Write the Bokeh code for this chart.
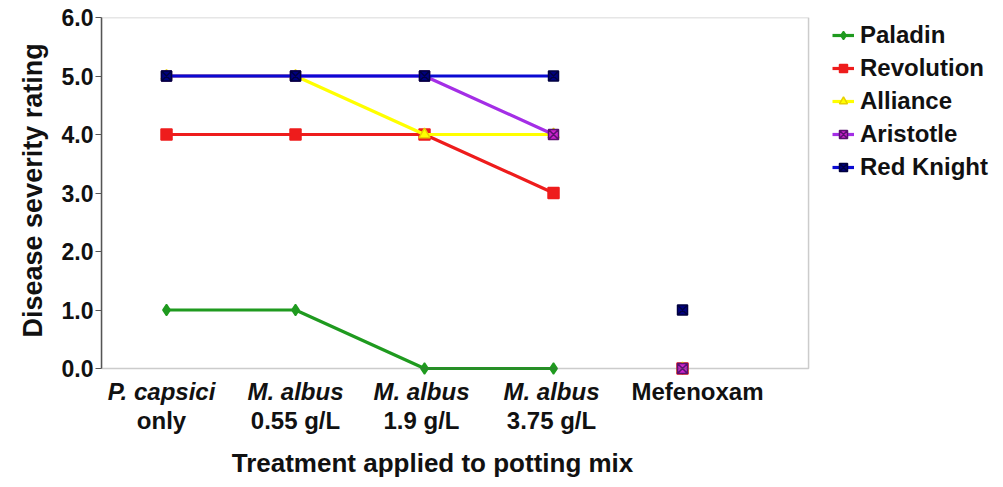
from bokeh.plotting import figure
from bokeh.models import (Range1d, Label, Legend, LegendItem, FixedTicker,
                          CustomJSTickFormatter, BoxAnnotation, Title)
from bokeh.embed import file_html
from bokeh.resources import INLINE

# ---- data ----
cat_top = ["P. capsici", "M. albus", "M. albus", "M. albus", "Mefenoxam"]
cat_bottom = ["only", "0.55 g/L", "1.9 g/L", "3.75 g/L", ""]
cat_italic = [True, True, True, True, False]

series_names = ["Paladin", "Revolution", "Alliance", "Aristotle", "Red Knight"]
paladin = [1.0, 1.0, 0.0, 0.0, 0.0]
revolution = [4.0, 4.0, 4.0, 3.0, 0.0]
alliance = [5.0, 5.0, 4.0, 4.0, 0.0]
aristotle = [5.0, 5.0, 5.0, 4.0, 0.0]
red_knight = [5.0, 5.0, 5.0, 5.0, 1.0]
y_ticks = [0, 1, 2, 3, 4, 5, 6]

values = [paladin, revolution, alliance, aristotle, red_knight]
line_colors = ["#1f9a1f", "#ee1c1c", "#ffff00", "#a42ee6", "#0a0ad2"]
fill_colors = ["#1f9a1f", "#ee1c1c", "#ffff00", "#cc22cc", "#000080"]
edge_colors = ["#1f9a1f", "#ee1c1c", "#e8d000", "#5a1070", "#000040"]
markers = ["diamond", "square", "triangle", "square_x", "square_x"]
msizes = [11, 11, 11, 10, 10]

FONT = "Liberation Sans"
INK = "#111111"

# visible chart box in data units
X0, X1 = -0.504, 4.977
Y0, Y1 = 0, 6

p = figure(width=995, height=479, output_backend="svg", toolbar_location=None,
           x_range=Range1d(X0, X0 + 894 / 129), y_range=Range1d(-111 / 58.5, Y1),
           min_border_left=101, min_border_right=0, min_border_top=17,
           min_border_bottom=0)
p.xgrid.visible = False
p.ygrid.visible = False
p.outline_line_color = None
p.background_fill_color = "white"
p.border_fill_color = "white"

p.add_layout(BoxAnnotation(left=X0, right=X1, bottom=Y0, top=Y1, fill_alpha=0,
                           line_color="#555555", line_width=1.5))

p.xaxis.visible = False
ya = p.yaxis[0]
ya.bounds = (Y0, Y1)
ya.ticker = FixedTicker(ticks=y_ticks)
ya.formatter = CustomJSTickFormatter(code="return tick.toFixed(1);")
ya.minor_tick_line_color = None
ya.major_tick_out = 6
ya.major_tick_in = 0
ya.major_tick_line_color = "#555555"
ya.axis_line_color = "#555555"
ya.axis_line_width = 1.5
ya.major_label_text_font = FONT
ya.major_label_text_font_style = "bold"
ya.major_label_text_font_size = "23px"
ya.major_label_text_color = INK
ya.major_label_standoff = 2

# y-axis title as a side title so it can be centred on the visible box
p.add_layout(Title(text="Disease severity rating", align="left", offset=142,
                   standoff=22, text_font=FONT, text_font_style="bold",
                   text_font_size="27px", text_color=INK), "left")

xs = list(range(len(cat_top)))
items = []
for name, vals, lc, fc, ec, mk, ms in zip(series_names, values, line_colors,
                                          fill_colors, edge_colors, markers, msizes):
    n_line = 4
    r_line = p.line(xs[:n_line], vals[:n_line], line_color=lc, line_width=3.2)
    r_pts = p.scatter(xs, vals, marker=mk, size=ms, fill_color=fc, line_color=ec,
                      line_width=1.5)
    items.append(LegendItem(label=name, renderers=[r_line, r_pts]))

legend = Legend(items=items, location=(731, 298), padding=0, margin=0,
                spacing=5, label_height=20, glyph_height=20, glyph_width=22,
                label_standoff=6, border_line_color=None, background_fill_alpha=0,
                label_text_font=FONT, label_text_font_style="bold",
                label_text_font_size="24px", label_text_color=INK)
p.add_layout(legend)

# category labels
offsets = [-5, 0, -3, -2, 15]
for x, top, bot, it, off in zip(xs, cat_top, cat_bottom, cat_italic, offsets):
    p.add_layout(Label(x=x, y=-0.393, text=top, x_offset=off,
                       text_align="center", text_baseline="middle", text_font=FONT,
                       text_font_style="bold italic" if it else "bold",
                       text_font_size="24px", text_color=INK))
    if bot:
        p.add_layout(Label(x=x, y=-0.889, text=bot, x_offset=off,
                           text_align="center", text_baseline="middle",
                           text_font=FONT, text_font_style="bold",
                           text_font_size="24px", text_color=INK))

p.add_layout(Label(x=2.0, y=-1.62, text="Treatment applied to potting mix",
                   x_offset=8, text_align="center", text_baseline="middle",
                   text_font=FONT, text_font_style="bold", text_font_size="26px",
                   text_color=INK))

open("out.html", "w").write(file_html(p, INLINE))
